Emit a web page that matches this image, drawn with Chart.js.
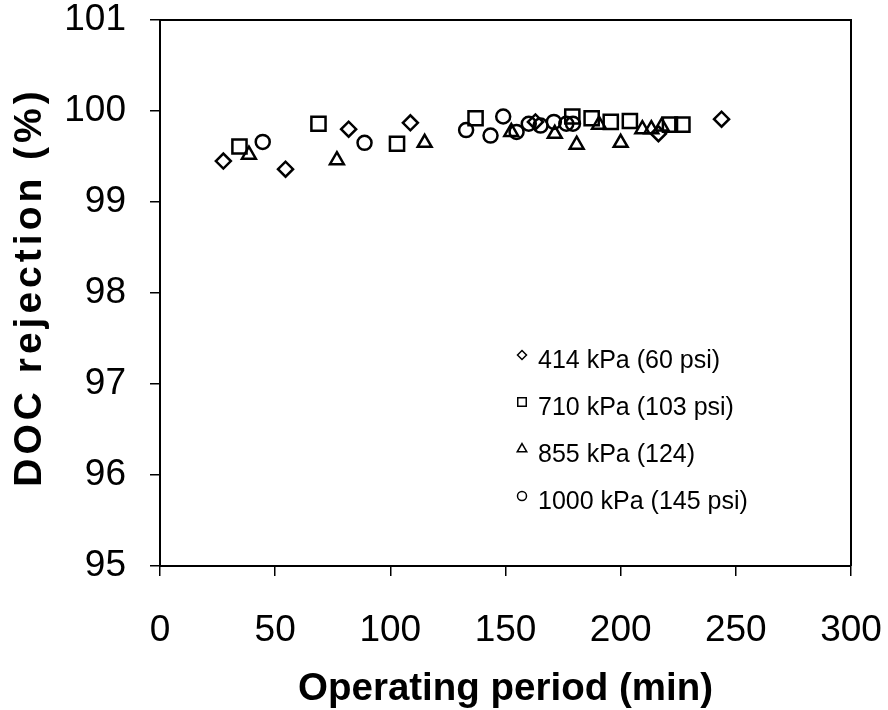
<!DOCTYPE html>
<html>
<head>
<meta charset="utf-8">
<script src="https://cdn.jsdelivr.net/npm/chart.js@4.4.0/dist/chart.umd.min.js"></script>
<style>
  html, body { margin: 0; padding: 0; background: #fff; }
  #wrap { width: 888px; height: 710px; }
</style>
</head>
<body>
<div id="wrap"><canvas id="docChart" width="888" height="710"></canvas></div>
<script>
// operating period (min) and DOC rejection (%), per feed pressure
const seriesLabels = ['414 kPa (60 psi)', '710 kPa (103 psi)', '855 kPa (124)', '1000 kPa (145 psi)'];

const time414 = [27.5, 54.5, 81.9, 108.7, 163, 216.4, 243.8];
const rej414  = [99.45, 99.36, 99.80, 99.87, 99.88, 99.75, 99.91];

const time710 = [34.5, 68.8, 102.9, 137, 179, 187.4, 195.7, 204, 221.4, 226.8];
const rej710  = [99.61, 99.86, 99.64, 99.92, 99.94, 99.92, 99.88, 99.89, 99.85, 99.85];

const time855 = [38.6, 76.8, 114.9, 152.5, 171.4, 180.9, 190.6, 200, 209.4, 213.3, 217.8];
const rej855  = [99.52, 99.46, 99.65, 99.77, 99.75, 99.63, 99.85, 99.65, 99.80, 99.80, 99.83];

const time1000 = [44.6, 88.8, 132.9, 143.5, 149, 154.8, 160.1, 165.2, 171, 176.4, 179.3];
const rej1000  = [99.66, 99.65, 99.79, 99.73, 99.94, 99.77, 99.86, 99.84, 99.88, 99.86, 99.86];

const xTicks = [0, 50, 100, 150, 200, 250, 300];
const yTicks = [95, 96, 97, 98, 99, 100, 101];

const xTitle = 'Operating period (min)';
const yTitle = 'DOC rejection (%)';

function toPoints(xs, ys) {
  return xs.map((x, i) => ({ x: x, y: ys[i] }));
}

const FONT = "'Liberation Sans', Arial, Helvetica, sans-serif";

// marker looks for each series
const markerStyle = ['rectRot', 'rect', 'triangle', 'circle'];
const markerRadius = [7.5, 10, 8, 7];

const datasets = [
  toPoints(time414, rej414),
  toPoints(time710, rej710),
  toPoints(time855, rej855),
  toPoints(time1000, rej1000)
].map((pts, i) => ({
  label: seriesLabels[i],
  data: pts,
  pointStyle: markerStyle[i],
  pointRadius: markerRadius[i],
  pointHoverRadius: markerRadius[i],
  pointBorderWidth: 2.5,
  pointBorderColor: '#000',
  pointBackgroundColor: 'rgba(255,255,255,0)',
  showLine: false
}));

// frame around plot area (top and right edges) + rotated y title
const framePlugin = {
  id: 'frame',
  afterDraw(chart) {
    const a = chart.chartArea;
    const ctx = chart.ctx;
    ctx.save();
    ctx.strokeStyle = '#000';
    ctx.lineWidth = 2;
    ctx.beginPath();
    ctx.moveTo(a.left, a.top);
    ctx.lineTo(a.right, a.top);
    ctx.lineTo(a.right, a.bottom);
    ctx.stroke();

    // y title, a bit wider spaced like the original
    ctx.translate(30, (a.top + a.bottom) / 2 - 6);
    ctx.rotate(-Math.PI / 2);
    ctx.font = 'bold 39px ' + FONT;
    ctx.letterSpacing = '4px';
    ctx.fillStyle = '#000';
    ctx.textAlign = 'center';
    ctx.textBaseline = 'middle';
    ctx.fillText(yTitle, 0, 0);
    ctx.restore();
  }
};

// legend drawn inside the plot, lower right
const insideLegend = {
  id: 'insideLegend',
  afterDraw(chart) {
    const ctx = chart.ctx;
    const a = chart.chartArea;
    const x0 = a.left + 362;
    const y0 = a.top + 341;
    const rowGap = 47;
    const legRadius = [4.5, 6, 5.5, 4.5];
    ctx.save();
    ctx.font = '25px ' + FONT;
    ctx.textBaseline = 'middle';
    ctx.textAlign = 'left';
    seriesLabels.forEach((lab, i) => {
      const y = y0 + i * rowGap;
      ctx.fillStyle = '#fff';
      ctx.strokeStyle = '#000';
      ctx.lineWidth = 1.5;
      Chart.helpers.drawPoint(ctx, {
        pointStyle: markerStyle[i],
        radius: legRadius[i],
        borderWidth: 1.5
      }, x0, y - 6);
      ctx.fillStyle = '#000';
      ctx.fillText(lab, x0 + 16, y);
    });
    ctx.restore();
  }
};

new Chart(document.getElementById('docChart'), {
  type: 'scatter',
  data: { datasets: datasets },
  options: {
    responsive: false,
    animation: false,
    devicePixelRatio: 1,
    layout: { padding: { top: 20, right: 37, left: 0, bottom: 0 } },
    plugins: {
      legend: { display: false },
      tooltip: { enabled: false }
    },
    scales: {
      x: {
        type: 'linear',
        min: 0,
        max: 300,
        afterFit(scale) {
          scale.height = 144;
          scale.paddingLeft = 0;
          scale.paddingRight = 0;
        },
        afterBuildTicks(scale) { scale.ticks = xTicks.map(v => ({ value: v })); },
        grid: { display: true, drawOnChartArea: false, drawTicks: true, tickLength: 10, color: '#000', lineWidth: 1.5 },
        border: { display: true, color: '#000', width: 2 },
        ticks: {
          padding: 33,
          color: '#000',
          maxRotation: 0,
          font: { family: FONT, size: 37 }
        },
        title: {
          display: true,
          text: xTitle,
          color: '#000',
          font: { family: FONT, size: 38.5, weight: 'bold', lineHeight: 1 },
          padding: { top: 0, bottom: 1 }
        }
      },
      y: {
        type: 'linear',
        min: 95,
        max: 101,
        afterFit(scale) {
          scale.width = 160;
          scale.paddingTop = 0;
          scale.paddingBottom = 0;
        },
        afterBuildTicks(scale) { scale.ticks = yTicks.map(v => ({ value: v })); },
        grid: { display: true, drawOnChartArea: false, drawTicks: true, tickLength: 10, color: '#000', lineWidth: 1.5 },
        border: { display: true, color: '#000', width: 2 },
        ticks: {
          padding: 24,
          color: '#000',
          font: { family: FONT, size: 37 }
        },
        title: { display: false }
      }
    }
  },
  plugins: [framePlugin, insideLegend]
});
</script>
</body>
</html>
